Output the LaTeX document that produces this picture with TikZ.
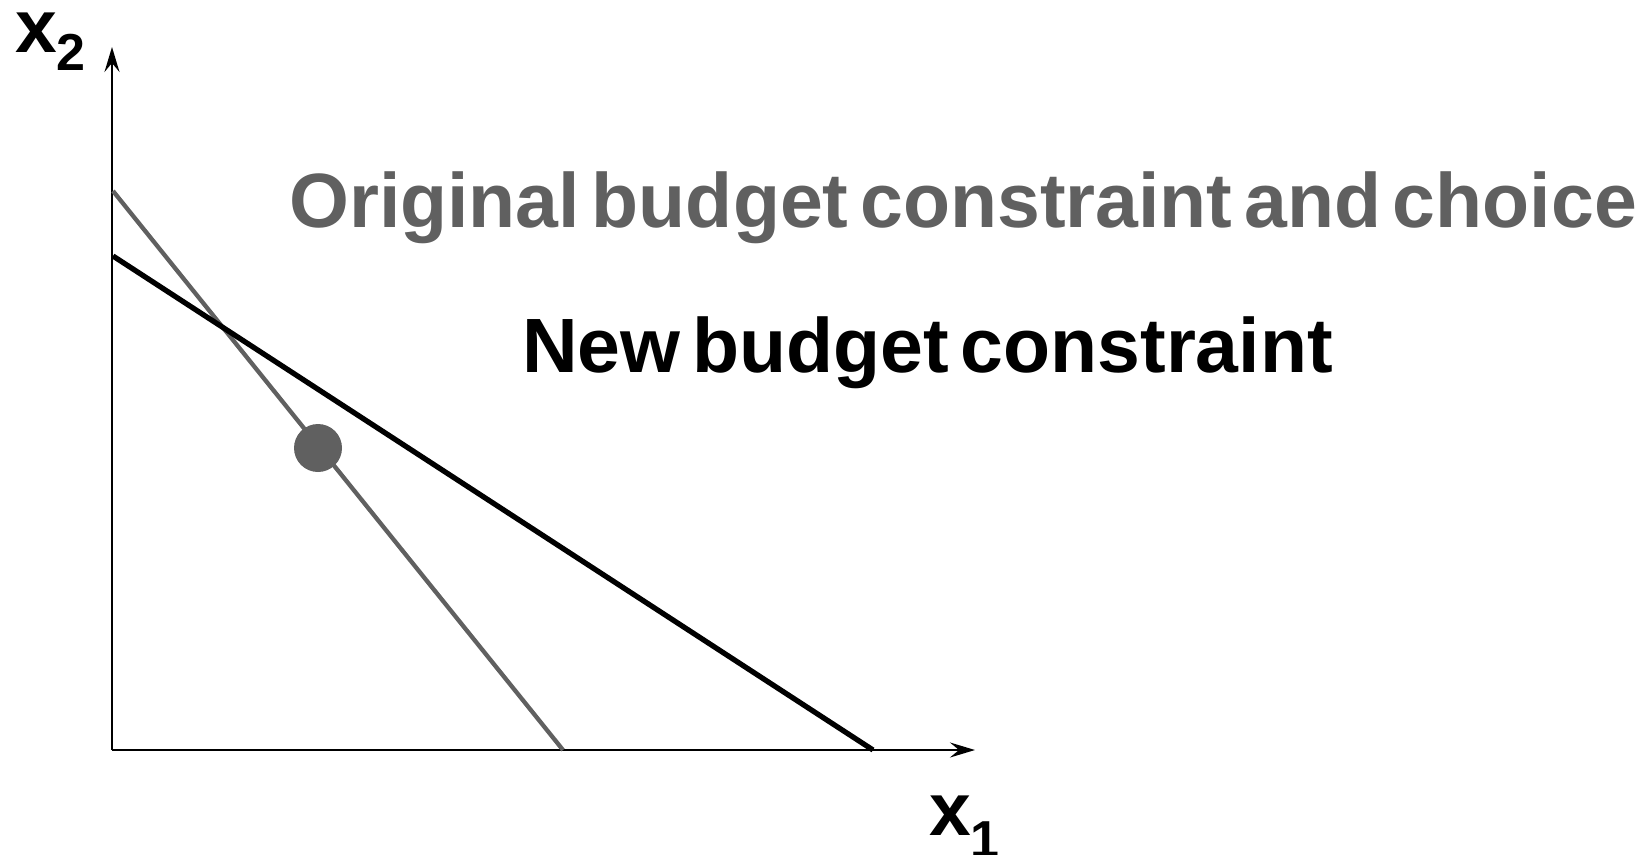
\documentclass[tikz,border=0pt]{standalone}
\usepackage{fontspec}
\setmainfont{Liberation Sans}[WordSpace=0.55]
\usetikzlibrary{arrows.meta}
\definecolor{oldgray}{HTML}{606060}
\begin{document}
\begin{tikzpicture}[x=1pt,y=-1pt,
  axis/.style={line width=2.3pt,-{Stealth[length=25pt,width=15pt,inset=9pt]}},
  oldline/.style={line width=4.3pt,oldgray},
  newline/.style={line width=5.3pt,black},
  bigtext/.style={inner sep=0pt,anchor=base west,font=\fontsize{77}{90}\selectfont\bfseries},
  axlabel/.style={inner sep=0pt,anchor=base west,font=\fontsize{75}{90}\selectfont\bfseries},
  choice/.style={circle,fill=oldgray,minimum size=48pt,inner sep=0pt}]
\useasboundingbox (0,0) rectangle (1646,854);
\coordinate (O) at (112,750);
\coordinate (Ytip) at (112,47);
\coordinate (Xtip) at (975,750);
\coordinate (A1) at (113,191);
\coordinate (B1) at (563,750);
\coordinate (A2) at (113,256);
\coordinate (B2) at (873,750);
\draw[axis] (O) -- (Ytip);
\draw[axis] (O) -- (Xtip);
\draw[oldline] (A1) -- (B1);
\draw[newline] (A2) -- (B2);
\node[choice] (E) at (318,448) {};
\node[axlabel] (x2) at (15,52) {x\raisebox{-18pt}{\fontsize{52}{60}\selectfont 2}};
\node[axlabel] (x1) at (929,835) {x\raisebox{-22pt}{\fontsize{52}{60}\selectfont 1}};
\node[bigtext,text=oldgray] (orig) at (289,227) {Original budget constraint and choice};
\node[bigtext] (new) at (522,372) {New budget constraint};
\end{tikzpicture}
\end{document}
